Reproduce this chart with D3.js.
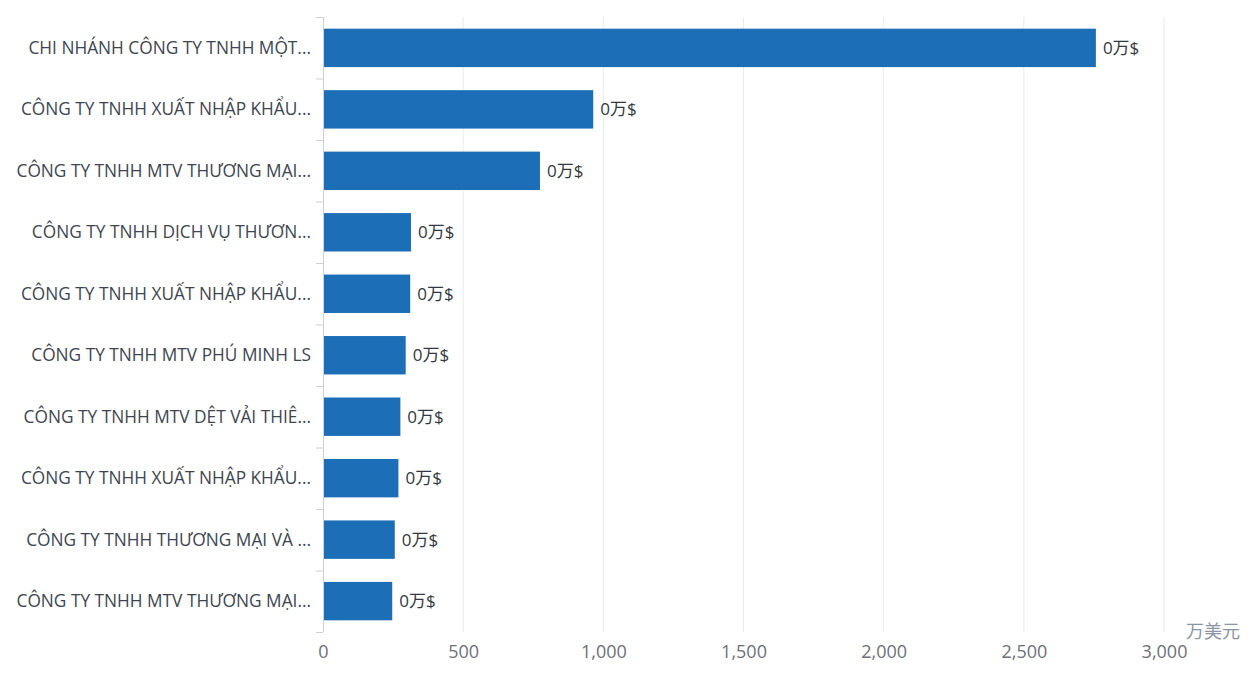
<!DOCTYPE html>
<html>
<head>
<meta charset="utf-8">
<script src="https://cdn.jsdelivr.net/npm/d3@7"></script>
<style>
  html, body { margin: 0; padding: 0; background: #fff; }
  text { font-family: "Open Sans", "Noto Sans", "Noto Sans CJK SC", sans-serif; }
</style>
</head>
<body>
<svg id="chart"></svg>
<script>
// company names as shown (already truncated in the source chart)
const categories = [
  "CHI NHÁNH CÔNG TY TNHH MỘT...",
  "CÔNG TY TNHH XUẤT NHẬP KHẨU...",
  "CÔNG TY TNHH MTV THƯƠNG MẠI...",
  "CÔNG TY TNHH DỊCH VỤ THƯƠN...",
  "CÔNG TY TNHH XUẤT NHẬP KHẨU...",
  "CÔNG TY TNHH MTV PHÚ MINH LS",
  "CÔNG TY TNHH MTV DỆT VẢI THIÊ...",
  "CÔNG TY TNHH XUẤT NHẬP KHẨU...",
  "CÔNG TY TNHH THƯƠNG MẠI VÀ ...",
  "CÔNG TY TNHH MTV THƯƠNG MẠI..."
];
const values = [2757, 964, 774, 314, 311, 295, 276, 269, 256, 247];
const valueLabels = ["0万$", "0万$", "0万$", "0万$", "0万$", "0万$", "0万$", "0万$", "0万$", "0万$"];
const xTicks = [0, 500, 1000, 1500, 2000, 2500, 3000];
const unitText = "万美元";

const width = 1255, height = 683;
const marginTop = 17, marginRight = 91, marginBottom = 51, marginLeft = 323;

const svg = d3.select("#chart")
  .attr("width", width)
  .attr("height", height)
  .attr("viewBox", [0, 0, width, height]);

const x = d3.scaleLinear([0, 3000], [marginLeft, width - marginRight]);
const y = d3.scaleBand(d3.range(categories.length), [marginTop, height - marginBottom])
  .paddingInner(0.375)
  .paddingOuter(0.19);
const yOuter = d3.scaleBand(d3.range(categories.length), [marginTop, height - marginBottom]);

// vertical grid lines
svg.append("g")
  .selectAll("line")
  .data(xTicks.filter(d => d > 0))
  .join("line")
    .attr("x1", d => x(d))
    .attr("x2", d => x(d))
    .attr("y1", marginTop)
    .attr("y2", height - marginBottom)
    .attr("stroke", "#e9ebef")
    .attr("stroke-width", 1);

// x axis labels (no axis line)
svg.append("g")
  .attr("transform", `translate(0, ${height - marginBottom})`)
  .call(d3.axisBottom(x).tickValues(xTicks).tickSize(0).tickPadding(13).tickFormat(d3.format(",")))
  .call(g => g.select(".domain").remove())
  .call(g => g.selectAll("text")
    .attr("fill", "#6e7079")
    .style("font-size", "18px")
    .style("font-family", "'Open Sans', 'Noto Sans', sans-serif"));

svg.append("text")
  .attr("x", 1213)
  .attr("y", 638)
  .attr("text-anchor", "middle")
  .attr("fill", "#8c95a3")
  .style("font-size", "18px")
  .style("font-family", "'Noto Sans CJK SC', sans-serif")
  .text(unitText);

// y axis line and ticks at band boundaries
const yAxis = svg.append("g");
yAxis.append("line")
  .attr("x1", marginLeft + 0.5).attr("x2", marginLeft + 0.5)
  .attr("y1", marginTop).attr("y2", height - marginBottom)
  .attr("stroke", "#ccd1d8");
yAxis.selectAll(".tick")
  .data(d3.range(categories.length + 1))
  .join("line")
    .attr("class", "tick")
    .attr("x1", marginLeft - 7).attr("x2", marginLeft)
    .attr("y1", i => (i < categories.length ? yOuter(i) : height - marginBottom) + 0.5)
    .attr("y2", i => (i < categories.length ? yOuter(i) : height - marginBottom) + 0.5)
    .attr("stroke", "#ccd1d8");

yAxis.selectAll(".cat")
  .data(categories)
  .join("text")
    .attr("class", "cat")
    .attr("x", marginLeft - 12)
    .attr("y", (d, i) => yOuter(i) + yOuter.bandwidth() / 2)
    .attr("dy", "0.35em")
    .attr("text-anchor", "end")
    .attr("fill", "#3d4550")
    .style("font-size", "17.3px")
    .text(d => d);

// bars
svg.append("g")
  .selectAll("rect")
  .data(values)
  .join("rect")
    .attr("x", x(0) + 1)
    .attr("y", (d, i) => y(i))
    .attr("width", d => x(d) - x(0) - 1)
    .attr("height", y.bandwidth())
    .attr("fill", "#1c6fb7");

// value labels
svg.append("g")
  .selectAll("text")
  .data(values)
  .join("text")
    .attr("x", d => x(d) + 7)
    .attr("y", (d, i) => y(i) + y.bandwidth() / 2)
    .attr("dy", "0.35em")
    .attr("fill", "#333840")
    .style("font-size", "17px")
    .text((d, i) => valueLabels[i]);
</script>
</body>
</html>
